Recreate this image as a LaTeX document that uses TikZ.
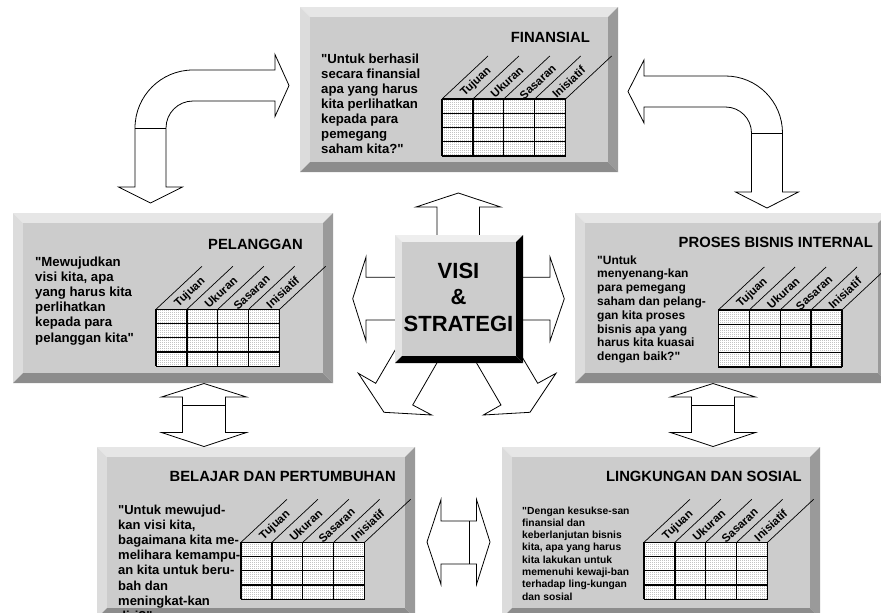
\documentclass[tikz,border=0pt]{standalone}
\usepackage{fontspec}
\setmainfont{Liberation Sans}[Ligatures=TeXOff]
\usetikzlibrary{patterns}

% panel colours
\definecolor{panelface}{RGB}{204,204,204}
\definecolor{stdtop}{RGB}{230,230,230}
\definecolor{stdleft}{RGB}{220,220,220}
\definecolor{stdright}{RGB}{154,154,154}
\definecolor{stdbot}{RGB}{140,140,140}
\definecolor{ctrtop}{RGB}{238,238,238}
\definecolor{ctrleft}{RGB}{228,228,228}
\definecolor{ctrright}{RGB}{0,0,0}
\definecolor{ctrbot}{RGB}{0,0,0}
\definecolor{dotgray}{RGB}{115,115,115}

% fine dot screen for the table cells
\pgfdeclarepatternformonly{finedots}{\pgfqpoint{0pt}{0pt}}{\pgfqpoint{2pt}{2pt}}{\pgfqpoint{2pt}{2pt}}{%
  \pgfpathrectangle{\pgfqpoint{0.6pt}{0.6pt}}{\pgfqpoint{0.8pt}{0.8pt}}\pgfusepath{fill}}

\tikzset{
  blockarrow/.style={draw=black, fill=white, line width=0.8pt, line join=miter},
  heading/.style={font=\fontsize{14.8}{17}\selectfont\bfseries, anchor=base east, inner sep=0pt},
  colhead/.style={font=\fontsize{11.5}{13}\selectfont\bfseries, rotate=43, inner sep=0pt},
  gridline/.style={line width=1.2pt, draw=black},
  slant/.style={line width=0.7pt, draw=black},
  bigtitle/.style={font=\fontsize{22}{26}\selectfont\bfseries, anchor=base, inner sep=0pt},
}

% bevelled panel: name, left, top, right, bottom, bevel width, colour set
\newcommand\bevelpanel[7]{%
  \fill[#7top] (#2,#3) -- (#4,#3) -- ({#4-#6},{#3+#6}) -- ({#2+#6},{#3+#6}) -- cycle;
  \fill[#7left] (#2,#3) -- ({#2+#6},{#3+#6}) -- ({#2+#6},{#5-#6}) -- (#2,#5) -- cycle;
  \fill[#7right] (#4,#3) -- (#4,#5) -- ({#4-#6},{#5-#6}) -- ({#4-#6},{#3+#6}) -- cycle;
  \fill[#7bot] (#2,#5) -- (#4,#5) -- ({#4-#6},{#5-#6}) -- ({#2+#6},{#5-#6}) -- cycle;
  \node[fill=panelface, inner sep=0pt, outer sep=0pt, anchor=north west,
        minimum width={(#4-#2-2*#6)*1pt}, minimum height={(#5-#3-2*#6)*1pt}]
        (#1) at ({#2+#6},{#3+#6}) {};
}

% measure table with slanted column heads: name, left, top
\newcommand\scorecard[3]{%
  \begin{scope}[shift={(#2,#3)}]
    \fill[white] (0,0) rectangle (123.6,57);
    \fill[pattern=finedots, pattern color=dotgray] (0,0) rectangle (123.6,57);
    \foreach \i in {0,...,4} \draw[gridline] ({\i*30.9},0) -- ({\i*30.9},57);
    \foreach \j in {0,...,4} \draw[gridline] (0,{\j*14.25}) -- (123.6,{\j*14.25});
    \foreach \i in {0,...,4} \draw[slant] ({\i*30.9},0) -- ++(46,-43);
    \foreach \t [count=\i from 0] in {Tujuan,Ukuran,Sasaran,Inisiatif}
      \node[colhead] (#1-\i) at ({\i*30.9+34},-17) {\t};
  \end{scope}
}

% question text set line by line: name, left, first baseline, line step, font size, lines
\newcommand\quotelines[6]{%
  \foreach \l [count=\i from 0] in {#6}
    \node[anchor=base west, inner sep=0pt, font=\fontsize{#5}{#5}\selectfont\bfseries]
      (#1-\i) at (#2,{#3+\i*#4}) {\l};
}

\begin{document}
\begin{tikzpicture}[x=1pt,y=-1pt]
\useasboundingbox (0,0) rectangle (881,613);
\clip (0,0) rectangle (881,613);

% ---- block arrows ----
% bent arrow, upper left
\draw[blockarrow] (135,187) -- (135,128) arc[start angle=180,end angle=270,radius=58]
  -- (275,70) -- (275,54.5) -- (289,85.5) -- (275,116.5) -- (275,101) -- (193,101)
  arc[start angle=270,end angle=180,radius=27] -- (166,187) -- (182.5,187)
  -- (150.5,203) -- (118.5,187) -- cycle;
\draw[blockarrow] (135,128) -- (166,128);

% bent arrow, upper right
\draw[blockarrow] (644,76) -- (725.5,76) arc[start angle=270,end angle=360,radius=57]
  -- (782.5,192) -- (798.5,192) -- (767,208) -- (735.5,192) -- (751.5,192) -- (751.5,133)
  arc[start angle=0,end angle=-90,radius=26] -- (644,107) -- (644,123) -- (628,91.5)
  -- (644,60) -- cycle;
\draw[blockarrow] (751.5,133) -- (782.5,133);

% arrows leaving the centre block
\draw[blockarrow] (437,245) -- (437,207) -- (416,207) -- (458.3,193) -- (500.7,207)
  -- (479.5,207) -- (479.5,245) -- cycle;
\draw[blockarrow] (405,277.3) -- (366,277.3) -- (366,257) -- (352.7,298.7) -- (366,341)
  -- (366,320) -- (405,320) -- cycle;
\draw[blockarrow] (513,277.3) -- (550,277.3) -- (550,257) -- (564.3,298.7) -- (550,341)
  -- (550,320) -- (513,320) -- cycle;
\draw[blockarrow] (401.8,338.7) -- (375.7,383.3) -- (358.3,373.3) -- (384,412.3)
  -- (431.7,415) -- (412.7,405) -- (444.2,350.3) -- cycle;
\draw[blockarrow] (469.2,350.3) -- (501,405) -- (483.3,415) -- (530,412.3)
  -- (556,373.3) -- (537.7,383.3) -- (515.2,345.3) -- cycle;

% vertical double arrows
\draw[blockarrow] (204,383.5) -- (246.5,397) -- (225.5,397) -- (225.5,432.5) -- (246.5,432.5)
  -- (204,446.5) -- (161.5,432.5) -- (182.5,432.5) -- (182.5,397) -- (161.5,397) -- cycle;
\draw[blockarrow] (182.5,405) -- (225.5,405);
\draw[blockarrow] (713,383.5) -- (755.5,397) -- (734.5,397) -- (734.5,432.5) -- (755.5,432.5)
  -- (713,446.5) -- (670.5,432.5) -- (691.5,432.5) -- (691.5,397) -- (670.5,397) -- cycle;
\draw[blockarrow] (691.5,405) -- (734.5,405);

% horizontal double arrow
\draw[blockarrow] (427,542) -- (441,499.5) -- (441,521) -- (476.5,521) -- (476.5,499.5)
  -- (490,542) -- (476.5,584.5) -- (476.5,564) -- (441,564) -- (441,584.5) -- cycle;
\draw[blockarrow] (469,521) -- (469,564);

% ---- panels ----
\bevelpanel{fin}{300}{7}{618}{172}{10}{std}
\bevelpanel{pel}{13}{213}{333}{383}{10}{std}
\bevelpanel{pro}{575}{213}{888}{383}{10}{std}
\bevelpanel{bel}{97}{447}{415}{618}{10}{std}
\bevelpanel{lin}{502}{447}{820}{618}{10}{std}
\bevelpanel{vis}{395}{235}{523}{363}{7}{ctr}

% ---- finansial ----
\node[heading] (fin-title) at (590,42) {FINANSIAL};
\quotelines{finq}{321}{63}{15}{13.2}{{"Untuk berhasil},{secara finansial},{apa yang harus},{kita perlihatkan},{kepada para},{pemegang},{saham kita?"}}
\scorecard{fint}{442}{99}

% ---- pelanggan ----
\node[heading] (pel-title) at (303,249.3) {PELANGGAN};
\quotelines{pelq}{35}{266}{15.2}{13.2}{{"Mewujudkan},{visi kita, apa},{yang harus kita},{perlihatkan},{kepada para},{pelanggan kita"}}
\scorecard{pelt}{156}{309.3}

% ---- proses bisnis internal ----
\node[heading] (pro-title) at (873,247.5) {PROSES BISNIS INTERNAL};
\quotelines{proq}{597}{264}{13.8}{12}{{"Untuk},{menyenang-kan},{para pemegang},{saham dan pelang-},{gan kita proses},{bisnis apa yang},{harus kita kuasai},{dengan baik?"}}
\scorecard{prot}{718.3}{310}

% ---- belajar dan pertumbuhan ----
\node[heading] (bel-title) at (396,481.7) {BELAJAR DAN PERTUMBUHAN};
\quotelines{belq}{118}{514}{15.2}{13}{{"Untuk mewujud-},{kan visi kita,},{bagaimana kita me-},{melihara kemampu-},{an kita untuk beru-},{bah dan},{meningkat-kan},{diri?"}}
\scorecard{belt}{241}{542.3}

% ---- lingkungan dan sosial ----
\node[heading] (lin-title) at (802,481.7) {LINGKUNGAN DAN SOSIAL};
\quotelines{linq}{522}{514}{12.3}{10.3}{{"Dengan kesukse-san},{finansial dan},{keberlanjutan bisnis},{kita, apa yang harus},{kita lakukan untuk},{memenuhi kewaji-ban},{terhadap ling-kungan},{dan sosial}}
\scorecard{lint}{644}{542.3}

% ---- centre block ----
\node[bigtitle] (vis-1) at (458.5,278) {VISI};
\node[bigtitle] (vis-2) at (458.5,304) {\&};
\node[bigtitle] (vis-3) at (458.5,331) {STRATEGI};
\end{tikzpicture}
\end{document}
